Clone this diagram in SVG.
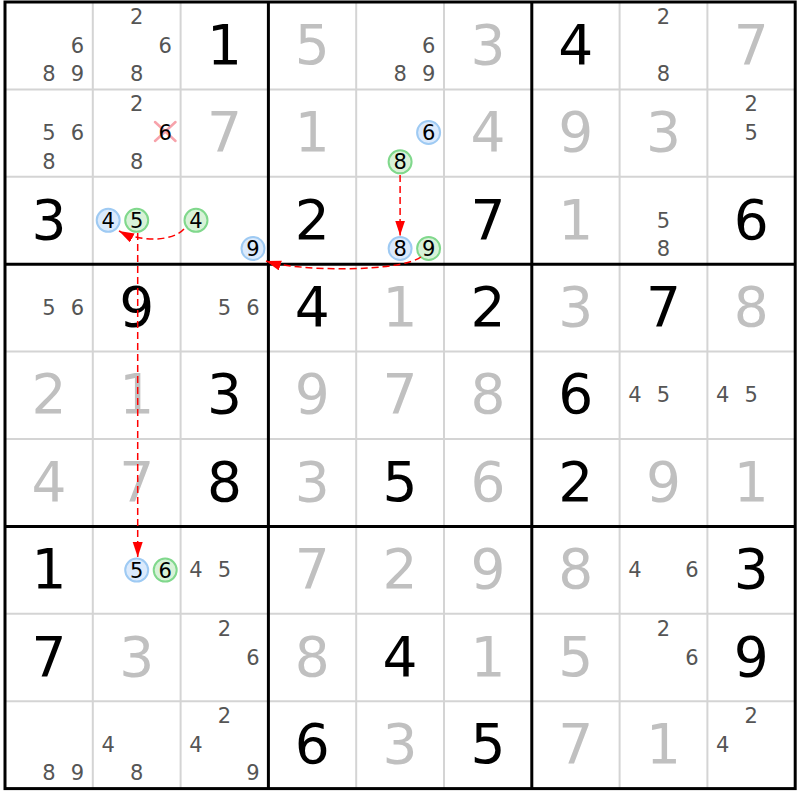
<svg xmlns="http://www.w3.org/2000/svg" width="800" height="800" viewBox="0 0 800 800">
<style>
text{font-family:"DejaVu Sans","Liberation Sans",sans-serif;text-anchor:middle}
.g{font-size:55px;fill:#000}
.s{font-size:55px;fill:#c0c0c0}
.c{font-size:21px;fill:#555}
.k{font-size:21px;fill:#000}
.thin{stroke:#d4d4d4;stroke-width:2}
.thick{stroke:#000;stroke-width:3}
.cb{fill:#dbeafc;stroke:#9ecaf3;stroke-width:2}
.cg{fill:#d8f2d8;stroke:#80d88c;stroke-width:2}
.arr{fill:none;stroke:#ff0000;stroke-width:1.5;stroke-dasharray:7,4}
.x{stroke:#f7a3ab;stroke-width:2.5;stroke-linecap:round}
</style>
<defs>
<marker id="ah" markerUnits="userSpaceOnUse" markerWidth="16" markerHeight="11" refX="15" refY="5" orient="auto">
<path d="M0,0 L15,5 L0,10 z" fill="#ff0000"/>
</marker>
</defs>
<rect x="0" y="0" width="800" height="800" fill="#fff"/>
<g id="grid">
<g class="thin">
<line x1="92.8" y1="2" x2="92.8" y2="788.6"/>
<line x1="180.6" y1="2" x2="180.6" y2="788.6"/>
<line x1="356.2" y1="2" x2="356.2" y2="788.6"/>
<line x1="444" y1="2" x2="444" y2="788.6"/>
<line x1="619.6" y1="2" x2="619.6" y2="788.6"/>
<line x1="707.4" y1="2" x2="707.4" y2="788.6"/>
<line x1="5" y1="89.4" x2="795.2" y2="89.4"/>
<line x1="5" y1="176.8" x2="795.2" y2="176.8"/>
<line x1="5" y1="351.6" x2="795.2" y2="351.6"/>
<line x1="5" y1="439" x2="795.2" y2="439"/>
<line x1="5" y1="613.8" x2="795.2" y2="613.8"/>
<line x1="5" y1="701.2" x2="795.2" y2="701.2"/>
</g>
<g class="thick">
<line x1="268.4" y1="2" x2="268.4" y2="788.6"/>
<line x1="531.8" y1="2" x2="531.8" y2="788.6"/>
<line x1="5" y1="264.2" x2="795.2" y2="264.2"/>
<line x1="5" y1="526.4" x2="795.2" y2="526.4"/>
<rect x="5" y="2" width="790.2" height="786.6" fill="none"/>
</g>
</g>

<g id="r0c0"><text class="c" x="77.4" y="52.5">6</text><text class="c" x="48.9" y="81">8</text><text class="c" x="77.4" y="81">9</text></g>
<g id="r0c1"><text class="c" x="136.7" y="23.5">2</text><text class="c" x="165.2" y="52.5">6</text><text class="c" x="136.7" y="81">8</text></g>
<g id="r0c2"><text class="g" x="224.5" y="63.7">1</text></g>
<g id="r0c3"><text class="s" x="312.3" y="63.7">5</text></g>
<g id="r0c4"><text class="c" x="428.6" y="52.5">6</text><text class="c" x="400.1" y="81">8</text><text class="c" x="428.6" y="81">9</text></g>
<g id="r0c5"><text class="s" x="487.9" y="63.7">3</text></g>
<g id="r0c6"><text class="g" x="575.7" y="63.7">4</text></g>
<g id="r0c7"><text class="c" x="663.5" y="23.5">2</text><text class="c" x="663.5" y="81">8</text></g>
<g id="r0c8"><text class="s" x="751.3" y="63.7">7</text></g>

<g id="r1c0"><text class="c" x="48.9" y="140">5</text><text class="c" x="77.4" y="140">6</text><text class="c" x="48.9" y="168.6">8</text></g>
<g id="r1c1"><text class="c" x="136.7" y="111">2</text><line class="x" x1="155" y1="122" x2="175.5" y2="141"/><line class="x" x1="175.5" y1="122" x2="155" y2="141"/><text class="k" x="165.2" y="140">6</text><text class="c" x="136.7" y="168.6">8</text></g>
<g id="r1c2"><text class="s" x="224.5" y="151.1">7</text></g>
<g id="r1c3"><text class="s" x="312.3" y="151.1">1</text></g>
<g id="r1c4"><circle class="cb" cx="428.6" cy="132.5" r="11.5"/><text class="k" x="428.6" y="140">6</text><circle class="cg" cx="400.1" cy="161.8" r="11.5"/><text class="k" x="400.1" y="169.3">8</text></g>
<g id="r1c5"><text class="s" x="487.9" y="151.1">4</text></g>
<g id="r1c6"><text class="s" x="575.7" y="151.1">9</text></g>
<g id="r1c7"><text class="s" x="663.5" y="151.1">3</text></g>
<g id="r1c8"><text class="c" x="751.3" y="111">2</text><text class="c" x="751.3" y="140">5</text></g>

<g id="r2c0"><text class="g" x="48.9" y="238.5">3</text></g>
<g id="r2c1"><circle class="cb" cx="108.2" cy="220.3" r="11.5"/><text class="k" x="108.2" y="227.8">4</text><circle class="cg" cx="136.7" cy="220.3" r="11.5"/><text class="k" x="136.7" y="227.8">5</text></g>
<g id="r2c2"><circle class="cg" cx="196" cy="220.3" r="11.5"/><text class="k" x="196" y="227.8">4</text><circle class="cb" cx="253" cy="248.5" r="11.5"/><text class="k" x="253" y="256">9</text></g>
<g id="r2c3"><text class="g" x="312.3" y="238.5">2</text></g>
<g id="r2c4"><circle class="cb" cx="400.1" cy="248.5" r="11.5"/><text class="k" x="400.1" y="256">8</text><circle class="cg" cx="428.6" cy="248.5" r="11.5"/><text class="k" x="428.6" y="256">9</text></g>
<g id="r2c5"><text class="g" x="487.9" y="238.5">7</text></g>
<g id="r2c6"><text class="s" x="575.7" y="238.5">1</text></g>
<g id="r2c7"><text class="c" x="663.5" y="227.5">5</text><text class="c" x="663.5" y="256">8</text></g>
<g id="r2c8"><text class="g" x="751.3" y="238.5">6</text></g>

<g id="r3c0"><text class="c" x="48.9" y="314.9">5</text><text class="c" x="77.4" y="314.9">6</text></g>
<g id="r3c1"><text class="g" x="136.7" y="325.9">9</text></g>
<g id="r3c2"><text class="c" x="224.5" y="314.9">5</text><text class="c" x="253" y="314.9">6</text></g>
<g id="r3c3"><text class="g" x="312.3" y="325.9">4</text></g>
<g id="r3c4"><text class="s" x="400.1" y="325.9">1</text></g>
<g id="r3c5"><text class="g" x="487.9" y="325.9">2</text></g>
<g id="r3c6"><text class="s" x="575.7" y="325.9">3</text></g>
<g id="r3c7"><text class="g" x="663.5" y="325.9">7</text></g>
<g id="r3c8"><text class="s" x="751.3" y="325.9">8</text></g>

<g id="r4c0"><text class="s" x="48.9" y="413.3">2</text></g>
<g id="r4c1"><text class="s" x="136.7" y="413.3">1</text></g>
<g id="r4c2"><text class="g" x="224.5" y="413.3">3</text></g>
<g id="r4c3"><text class="s" x="312.3" y="413.3">9</text></g>
<g id="r4c4"><text class="s" x="400.1" y="413.3">7</text></g>
<g id="r4c5"><text class="s" x="487.9" y="413.3">8</text></g>
<g id="r4c6"><text class="g" x="575.7" y="413.3">6</text></g>
<g id="r4c7"><text class="c" x="635" y="402.3">4</text><text class="c" x="663.5" y="402.3">5</text></g>
<g id="r4c8"><text class="c" x="722.8" y="402.3">4</text><text class="c" x="751.3" y="402.3">5</text></g>

<g id="r5c0"><text class="s" x="48.9" y="500.7">4</text></g>
<g id="r5c1"><text class="s" x="136.7" y="500.7">7</text></g>
<g id="r5c2"><text class="g" x="224.5" y="500.7">8</text></g>
<g id="r5c3"><text class="s" x="312.3" y="500.7">3</text></g>
<g id="r5c4"><text class="g" x="400.1" y="500.7">5</text></g>
<g id="r5c5"><text class="s" x="487.9" y="500.7">6</text></g>
<g id="r5c6"><text class="g" x="575.7" y="500.7">2</text></g>
<g id="r5c7"><text class="s" x="663.5" y="500.7">9</text></g>
<g id="r5c8"><text class="s" x="751.3" y="500.7">1</text></g>

<g id="r6c0"><text class="g" x="48.9" y="588.1">1</text></g>
<g id="r6c1"><circle class="cb" cx="136.7" cy="570.1" r="11.5"/><text class="k" x="136.7" y="577.6">5</text><circle class="cg" cx="165.2" cy="570.1" r="11.5"/><text class="k" x="165.2" y="577.6">6</text></g>
<g id="r6c2"><text class="c" x="196" y="577.1">4</text><text class="c" x="224.5" y="577.1">5</text></g>
<g id="r6c3"><text class="s" x="312.3" y="588.1">7</text></g>
<g id="r6c4"><text class="s" x="400.1" y="588.1">2</text></g>
<g id="r6c5"><text class="s" x="487.9" y="588.1">9</text></g>
<g id="r6c6"><text class="s" x="575.7" y="588.1">8</text></g>
<g id="r6c7"><text class="c" x="635" y="577.1">4</text><text class="c" x="692" y="577.1">6</text></g>
<g id="r6c8"><text class="g" x="751.3" y="588.1">3</text></g>

<g id="r7c0"><text class="g" x="48.9" y="675.5">7</text></g>
<g id="r7c1"><text class="s" x="136.7" y="675.5">3</text></g>
<g id="r7c2"><text class="c" x="224.5" y="635.5">2</text><text class="c" x="253" y="664.5">6</text></g>
<g id="r7c3"><text class="s" x="312.3" y="675.5">8</text></g>
<g id="r7c4"><text class="g" x="400.1" y="675.5">4</text></g>
<g id="r7c5"><text class="s" x="487.9" y="675.5">1</text></g>
<g id="r7c6"><text class="s" x="575.7" y="675.5">5</text></g>
<g id="r7c7"><text class="c" x="663.5" y="635.5">2</text><text class="c" x="692" y="664.5">6</text></g>
<g id="r7c8"><text class="g" x="751.3" y="675.5">9</text></g>

<g id="r8c0"><text class="c" x="48.9" y="780.4">8</text><text class="c" x="77.4" y="780.4">9</text></g>
<g id="r8c1"><text class="c" x="108.2" y="751.9">4</text><text class="c" x="136.7" y="780.4">8</text></g>
<g id="r8c2"><text class="c" x="224.5" y="722.9">2</text><text class="c" x="196" y="751.9">4</text><text class="c" x="253" y="780.4">9</text></g>
<g id="r8c3"><text class="g" x="312.3" y="762.9">6</text></g>
<g id="r8c4"><text class="s" x="400.1" y="762.9">3</text></g>
<g id="r8c5"><text class="g" x="487.9" y="762.9">5</text></g>
<g id="r8c6"><text class="s" x="575.7" y="762.9">7</text></g>
<g id="r8c7"><text class="s" x="663.5" y="762.9">1</text></g>
<g id="r8c8"><text class="c" x="751.3" y="722.9">2</text><text class="c" x="722.8" y="751.9">4</text></g>

<g id="connectors">
<path class="arr" d="M400.1,175 L400.1,235.5" marker-end="url(#ah)"/>
<path class="arr" d="M421,257 C400,272 300,272 266,261" marker-end="url(#ah)"/>
<path class="arr" d="M184,229 C172,242 140,242 119,231" marker-end="url(#ah)"/>
<path class="arr" d="M137.7,233 L137.7,557" marker-end="url(#ah)"/>
</g>
</svg>
